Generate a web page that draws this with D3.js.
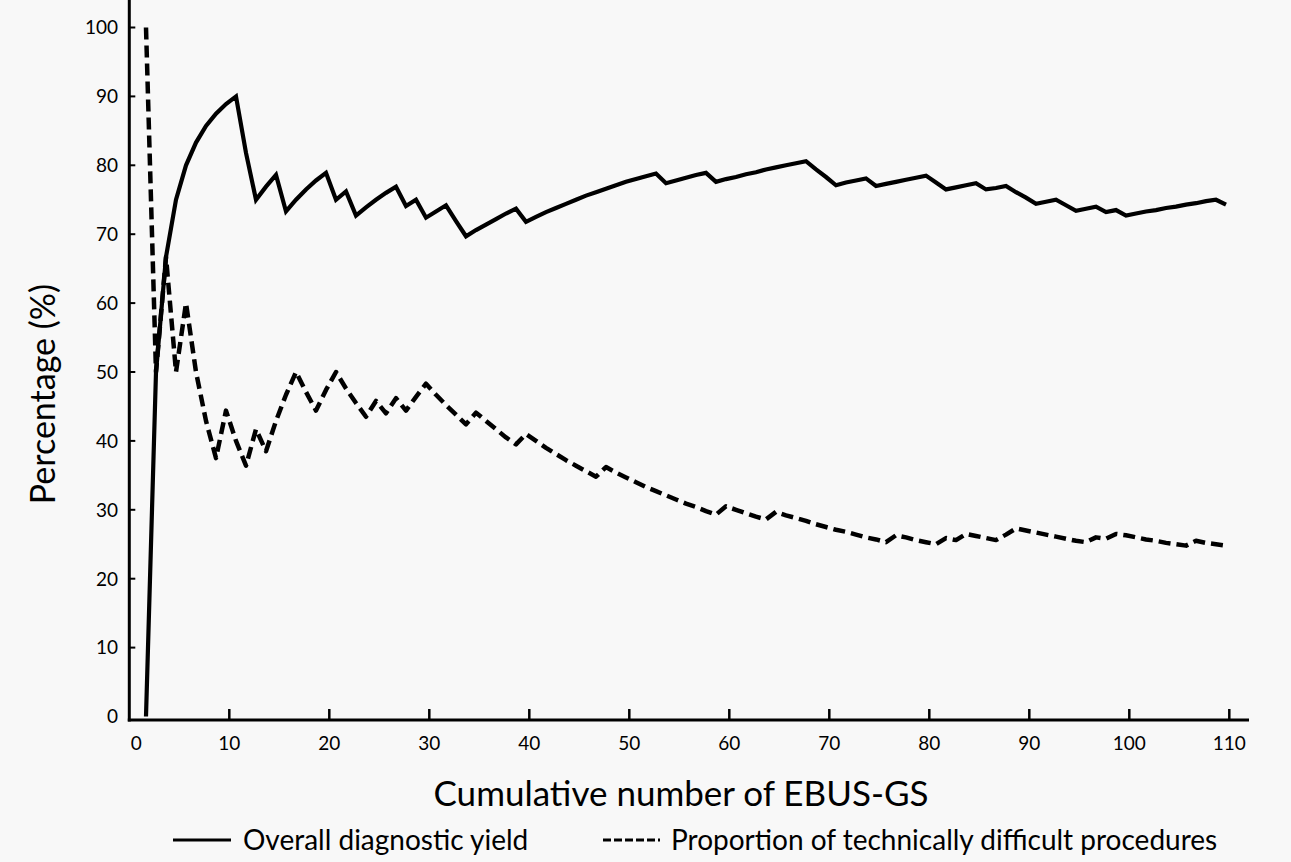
<!DOCTYPE html>
<html><head><meta charset="utf-8">
<script src="https://cdn.jsdelivr.net/npm/d3@7"></script>
<style>
html,body{margin:0;padding:0;background:#f8f8f8;}
svg{display:block;font-family:Lato,"Open Sans",sans-serif;}
</style></head>
<body><svg id="c" width="1291" height="862"></svg>
<script>
// Cumulative procedure number (1..109)
const procedures = d3.range(1, 110);
// Overall diagnostic yield (%) at each cumulative procedure
const diagnosticYield = [
 0,50,66.7,75,80,83.3,85.7,87.5,88.9,90,
 81.8,75,76.9,78.6,73.3,75,76.5,77.8,78.9,75,
 76.2,72.7,73.9,75,76,76.9,74.1,75,72.4,73.3,
 74.2,71.9,69.7,70.6,71.4,72.2,73.0,73.7,71.8,72.5,
 73.2,73.8,74.4,75.0,75.6,76.1,76.6,77.1,77.6,78.0,
 78.4,78.8,77.4,77.8,78.2,78.6,78.9,77.6,78.0,78.3,
 78.7,79.0,79.4,79.7,80.0,80.3,80.6,79.4,78.3,77.1,
 77.5,77.8,78.1,77.0,77.3,77.6,77.9,78.2,78.5,77.5,
 76.5,76.8,77.1,77.4,76.5,76.7,77.0,76.1,75.3,74.4,
 74.7,75.0,74.2,73.4,73.7,74.0,73.2,73.5,72.7,73.0,
 73.3,73.5,73.8,74.0,74.3,74.5,74.8,75.0,74.3
];
// Proportion of technically difficult procedures (%)
const difficultProportion = [
 100,50,66.7,50,60,50,42.9,37.5,44.4,40,
 36.4,41.7,38.5,42.9,46.7,50,47.1,44.4,47.4,50,
 47.6,45.5,43.5,45.8,44,46.2,44.4,46.4,48.3,46.7,
 45.2,43.8,42.4,44.1,42.9,41.7,40.5,39.5,41.0,40.0,
 39.0,38.1,37.2,36.4,35.6,34.8,36.2,35.4,34.7,34.0,
 33.3,32.7,32.1,31.5,30.9,30.4,29.8,29.3,30.5,30.0,
 29.5,29.0,28.6,29.7,29.2,28.8,28.4,27.9,27.5,27.1,
 26.8,26.4,26.0,25.7,25.3,26.3,26.0,25.6,25.3,25.0,
 25.9,25.6,26.5,26.2,25.9,25.6,26.4,27.3,27.0,26.7,
 26.4,26.1,25.8,25.5,25.3,26.0,25.8,26.5,26.3,26.0,
 25.7,25.5,25.2,25.0,24.8,25.5,25.2,25.0,24.8
];
const xTicks = [0,10,20,30,40,50,60,70,80,90,100,110];
const yTicks = [0,10,20,30,40,50,60,70,80,90,100];
const seriesNames = ["Overall diagnostic yield","Proportion of technically difficult procedures"];
const xTitle = "Cumulative number of EBUS-GS";
const yTitle = "Percentage (%)";

const svg = d3.select("#c");
const x = d3.scaleLinear().domain([0,110]).range([129.3,1229.3]);
const y = d3.scaleLinear().domain([0,100]).range([716.5,27.5]);
const plotOffset = 0.67; // horizontal placement of points relative to the axis, as drawn in the source

// axes lines
svg.append("line").attr("x1",x(0)).attr("x2",x(0)).attr("y1",0).attr("y2",721.5)
  .attr("stroke","#000").attr("stroke-width",3);
svg.append("line").attr("x1",x(0)-1.5).attr("x2",1249).attr("y1",720).attr("y2",720)
  .attr("stroke","#000").attr("stroke-width",3);

// y ticks
const yAxisG = svg.append("g");
yAxisG.selectAll("line").data(yTicks.filter(d=>d>0)).join("line")
  .attr("x1",x(0)).attr("x2",x(0)+6).attr("y1",d=>y(d)).attr("y2",d=>y(d))
  .attr("stroke","#000").attr("stroke-width",2);
yAxisG.selectAll("text").data(yTicks).join("text")
  .attr("x",118).attr("y",d=>y(d)).attr("dy","0.36em").attr("text-anchor","end")
  .attr("font-size",19).attr("fill","#000").text(d=>d);

// x ticks
const xAxisG = svg.append("g");
xAxisG.selectAll("line").data(xTicks.filter(d=>d>0)).join("line")
  .attr("x1",d=>x(d)).attr("x2",d=>x(d)).attr("y1",720).attr("y2",709)
  .attr("stroke","#000").attr("stroke-width",2.5);
xAxisG.selectAll("text").data(xTicks).join("text")
  .attr("x",d=>d===0?x(d)+7:x(d)).attr("y",743).attr("dy","0.36em").attr("text-anchor","middle")
  .attr("font-size",19).attr("fill","#000").text(d=>d);

// lines
const line = d3.line().x(d=>x(d[0]+plotOffset)).y(d=>y(d[1]));
svg.append("path").datum(procedures.map((n,i)=>[n,diagnosticYield[i]]))
  .attr("d",line).attr("fill","none").attr("stroke","#000").attr("stroke-width",4.2)
  .attr("stroke-linejoin","miter");
svg.append("path").datum(procedures.map((n,i)=>[n,difficultProportion[i]]))
  .attr("d",line).attr("fill","none").attr("stroke","#000").attr("stroke-width",4.5)
  .attr("stroke-dasharray","12,6").attr("stroke-linejoin","round");

// titles
svg.append("text").attr("x",681).attr("y",793).attr("dy","0.36em").attr("text-anchor","middle")
  .attr("font-size",35).attr("fill","#000").text(xTitle);
svg.append("text").attr("transform","translate(43,394) rotate(-90)").attr("dy","0.36em")
  .attr("text-anchor","middle").attr("font-size",34).attr("fill","#000").text(yTitle);

// legend
const lg = svg.append("g");
lg.append("line").attr("x1",173).attr("x2",231).attr("y1",840).attr("y2",840)
  .attr("stroke","#000").attr("stroke-width",3);
lg.append("text").attr("x",243).attr("y",840).attr("dy","0.36em").attr("font-size",28)
  .attr("fill","#000").text(seriesNames[0]);
lg.append("line").attr("x1",603).attr("x2",660).attr("y1",840).attr("y2",840)
  .attr("stroke","#000").attr("stroke-width",3).attr("stroke-dasharray","8,3");
lg.append("text").attr("x",671).attr("y",840).attr("dy","0.36em").attr("font-size",28)
  .attr("fill","#000").text(seriesNames[1]);
</script></body></html>
